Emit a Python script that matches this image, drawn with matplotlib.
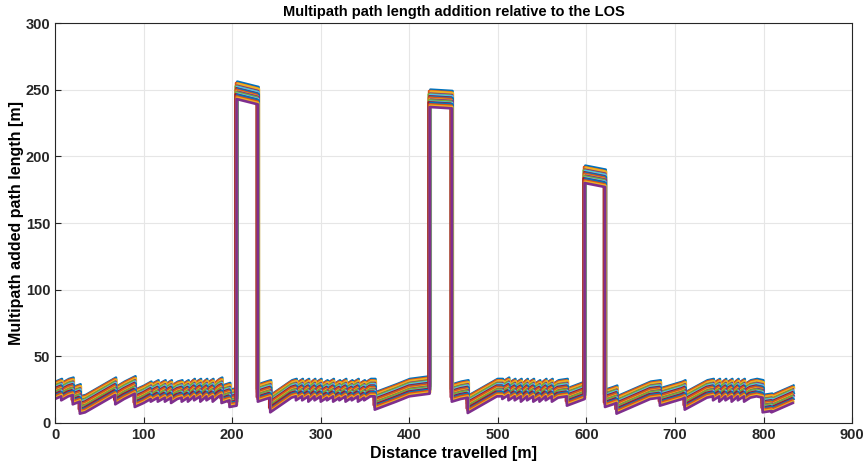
import matplotlib
matplotlib.use("Agg")
import matplotlib.pyplot as plt
import numpy as np

plt.rcParams['font.family'] = ['Liberation Sans', 'DejaVu Sans']

# lower edge of the band of multipath traces
# low stretch 0-205 m
low1_x = [0, 7, 7, 15, 20, 20, 28, 28, 34, 68, 68, 78, 90, 90, 100, 108, 108, 116, 116,
          124, 124, 131, 131, 138, 143, 143, 150, 150, 157, 157, 164, 164, 171, 171,
          178, 178, 185, 188, 188, 197, 197, 205]
low1_y = [18, 20, 17, 20, 21, 14, 16, 7, 8, 21, 14, 18, 22, 12, 15, 18, 16, 19, 16,
          19, 16, 19, 15, 18, 19, 16, 19, 16, 20, 17, 20, 16, 20, 17,
          20, 16, 20, 21, 15, 17, 12, 13]
# first blocked stretch
peak1_x = [205, 229]
peak1_y = [243, 239]
low2_x = [229, 238, 243, 243, 267, 272, 272, 279, 279, 286, 286, 293, 293, 300, 300,
          307, 307, 314, 314, 321, 321, 328, 328, 335, 335, 342, 342, 349, 349, 356,
          361, 361, 385, 400, 423]
low2_y = [16, 18, 19, 8, 19, 20, 17, 20, 17, 20, 16, 20, 17, 20, 16,
          19, 17, 20, 16, 19, 17, 20, 16, 19, 17, 20, 16, 19, 17, 20,
          20, 10, 16, 20, 22]
peak2_x = [423, 448]
peak2_y = [237, 236]
low3_x = [448, 458, 466, 466, 499, 505, 505, 512, 512, 519, 519, 526, 526, 533, 533,
          540, 540, 547, 547, 554, 554, 561, 561, 568, 578, 578, 598]
low3_y = [16, 18, 19, 7.5, 20, 20, 18, 21, 17, 20, 17, 20, 16, 20, 17,
          20, 16, 19, 16, 20, 17, 20, 16, 19, 20, 13, 18]
peak3_x = [598, 621]
peak3_y = [180, 177]
low4_x = [621, 630, 634, 634, 672, 683, 683, 708, 711, 711, 736, 743, 743, 750, 750,
          757, 757, 764, 764, 771, 771, 778, 778, 785, 792, 799, 799, 809, 809, 833]
low4_y = [12, 14, 15, 7, 18, 19, 13, 18, 19, 10, 19, 20, 17, 20, 16,
          20, 17, 20, 16, 20, 17, 20, 16, 19, 20, 19, 8, 9, 8, 15]

# per-trace vertical offset [m] and small shift along the track [m]
trace_dy = [13, 12, 11.5, 10, 9.5, 9, 8, 7.5, 7, 6, 5.5, 5, 4, 3.5, 3, 2, 1, 0]
trace_dx = [0.8, -0.6, 1.2, 0.3, -1.0, 0.6, -0.3, 1.0, -0.8, 0.2, 0.9, -0.5,
            0.4, -1.1, 0.7, -0.2, 0.5, 0.0]

colors = ['#0072BD', '#D95319', '#EDB120', '#7E2F8E', '#77AC30', '#4DBEEE', '#A2142F']

base_x = np.array(low1_x + peak1_x + low2_x + peak2_x + low3_x + peak3_x + low4_x, dtype=float)
base_y = np.array(low1_y + peak1_y + low2_y + peak2_y + low3_y + peak3_y + low4_y, dtype=float)

fig = plt.figure(figsize=(8.64, 4.66), dpi=100)
ax = fig.add_axes([0.0637, 0.0923, 0.9225, 0.8583])

for i, (dy, dx) in enumerate(zip(trace_dy, trace_dx)):
    ax.plot(base_x + dx, base_y + dy, color=colors[i % len(colors)], linewidth=1.9)

ax.set_xlim(0, 900)
ax.set_ylim(0, 300)
ax.set_xticks(np.arange(0, 901, 100))
ax.set_yticks(np.arange(0, 301, 50))
ax.grid(True, color='#e6e6e6', linewidth=0.8)
ax.set_axisbelow(True)
ax.tick_params(direction='in', length=4, colors='#262626', labelsize=10.5)
for lbl in ax.get_xticklabels() + ax.get_yticklabels():
    lbl.set_fontweight('bold')
for s in ax.spines.values():
    s.set_color('#262626')
    s.set_linewidth(0.8)

ax.set_title('Multipath path length addition relative to the LOS',
             fontsize=10.5, fontweight='bold', pad=5)
ax.set_xlabel('Distance travelled [m]', fontsize=11.5, fontweight='bold', labelpad=3)
ax.set_ylabel('Multipath added path length [m]', fontsize=11.5, fontweight='bold', labelpad=1)

fig.savefig('out.png', dpi=100)
